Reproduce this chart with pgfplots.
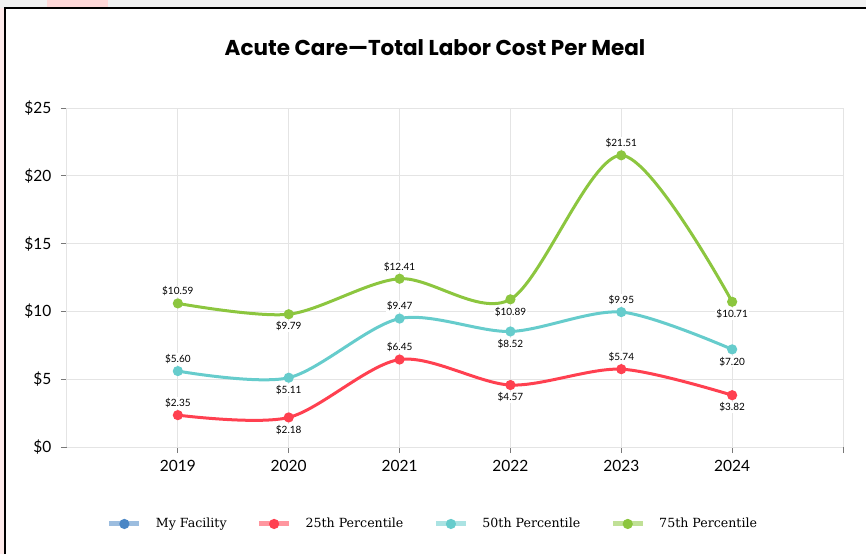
\documentclass[border=0pt]{standalone}
\usepackage{pgfplots}
\pgfplotsset{compat=1.18}
\usepackage{pgfplotstable}
\usepackage{fontspec}
\setmainfont{Lato}
\newfontfamily\legfont{DejaVu Serif}
\newfontfamily\titlefont{Poppins}
\definecolor{cgreen}{RGB}{140,198,63}
\definecolor{cteal}{RGB}{102,204,204}
\definecolor{cred}{RGB}{255,64,80}
\definecolor{cblue}{RGB}{74,134,197}
\definecolor{cgrid}{RGB}{228,228,228}
\definecolor{ctick}{RGB}{120,120,120}

\pgfplotstableread{
x y a
0 2.35 1
1 2.18 -1
2 6.45 1
3 4.57 -1
4 5.74 1
5 3.82 -1
}\pctA
\pgfplotstableread{
x y a
0 5.60 1
1 5.11 -1
2 9.47 1
3 8.52 -1
4 9.95 1
5 7.20 -1
}\pctB
\pgfplotstableread{
x y a
0 10.59 1
1 9.79 -1
2 12.41 1
3 10.89 -1
4 21.51 1
5 10.71 -1
}\pctC

\begin{document}
\begin{tikzpicture}[x=1pt,y=1pt]
\begin{axis}[
  name=ax,
  scale only axis, width=776pt, height=339pt,
  xmin=-1, xmax=6, ymin=0, ymax=25,
  xtick={0,1,2,3,4,5,6},
  xticklabels={2019,2020,2021,2022,2023,2024,{}},
  ytick={0,5,10,15,20,25},
  yticklabels={\$0,\$5,\$10,\$15,\$20,\$25},
  grid=major,
  grid style={cgrid, line width=1pt},
  axis x line*=bottom, axis y line*=left,
  axis line style={cgrid, line width=1pt},
  tick align=outside,
  major tick length=6pt,
  tick style={ctick, line width=1pt},
  ticklabel style={font=\fontsize{15.5}{18}\selectfont},
  xticklabel style={yshift=-4pt},
  yticklabel style={xshift=-6pt},
  /pgf/number format/assume math mode=true,
  every axis plot/.append style={line width=3pt, smooth, tension=0.5, mark=*, mark size=3.5pt, mark options={solid}},
  nodes near coords={\$\pgfmathprintnumber[fixed,fixed zerofill,precision=2]{\pgfplotspointmeta}},
  point meta=\thisrow{y},
  visualization depends on={\thisrow{a} \as \pos},
  every node near coord/.append style={font=\fontsize{10}{12}\selectfont, text=black, fill=white, inner sep=1pt, anchor={-90*\pos}, yshift={5*\pos}},
  legend style={at={(0.4716,-0.227)}, anchor=center, draw=none, fill=none,
    font=\legfont\fontsize{12.6}{14}\selectfont, legend columns=4,
    /tikz/every even column/.append style={column sep=28pt},
    /tikz/every odd column/.append style={column sep=12pt}},
  legend image code/.code={\draw[#1, line width=5pt, opacity=0.55, mark=none] (0pt,0pt) -- (30pt,0pt); \fill[#1] (15pt,0pt) circle (3.5pt);},
]
\addlegendimage{cblue}
\addlegendentry{My Facility}
\addplot[cred, mark options={fill=cred, draw=cred}] table[x=x,y=y] {\pctA};
\addlegendentry{25th Percentile}
\addplot[cteal, mark options={fill=cteal, draw=cteal}] table[x=x,y=y] {\pctB};
\addlegendentry{50th Percentile}
\addplot[cgreen, mark options={fill=cgreen, draw=cgreen}] table[x=x,y=y] {\pctC};
\addlegendentry{75th Percentile}
\end{axis}
\path (ax.south west) ++(-67,-107) coordinate (O);
\begin{scope}[shift={(O)}]
\fill[gray!10] (0,546) rectangle (866,554);
\fill[red!15] (47,546) rectangle (108,554);
\fill[red!8] (0,0) rectangle (4,546);
\draw[black, line width=2.5pt] (5,0) -- (5,546) -- (866,546);
\node[font=\titlefont\fontsize{21.5}{25}\selectfont\bfseries] at (435,506) {Acute Care—Total Labor Cost Per Meal};
\end{scope}
\pgfresetboundingbox
\path[use as bounding box] (O) rectangle ++(866,554);
\end{tikzpicture}
\end{document}
